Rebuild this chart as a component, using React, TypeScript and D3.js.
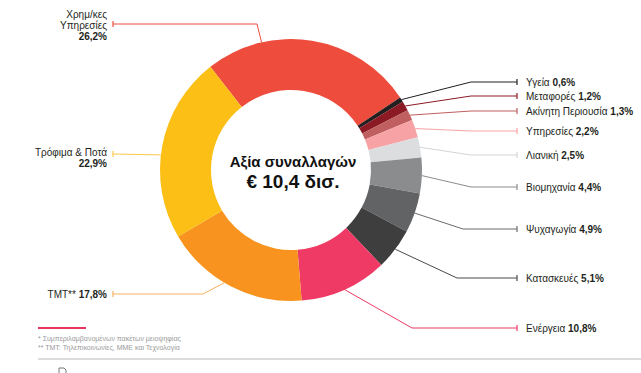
import React, { useEffect, useRef } from "react";
import * as d3 from "d3";

// sectors, clockwise from the red one
const sectors = [
  "Χρημ/κες Υπηρεσίες",
  "Υγεία",
  "Μεταφορές",
  "Ακίνητη Περιουσία",
  "Υπηρεσίες",
  "Λιανική",
  "Βιομηχανία",
  "Ψυχαγωγία",
  "Κατασκευές",
  "Ενέργεια",
  "TMT**",
  "Τρόφιμα & Ποτά",
];
const shares = [26.2, 0.6, 1.2, 1.3, 2.2, 2.5, 4.4, 4.9, 5.1, 10.8, 17.8, 22.9];
const shareLabels = ["26,2%", "0,6%", "1,2%", "1,3%", "2,2%", "2,5%", "4,4%", "4,9%", "5,1%", "10,8%", "17,8%", "22,9%"];
const colors = [
  "#ee4c3d", "#231f20", "#8c1a24", "#bf5f60", "#f7a3a6", "#dcddde",
  "#8b8c8e", "#626365", "#3e3e3f", "#ee3a64", "#f7931e", "#fcbf16",
];
const lineColors = [
  "#ee4c3d", "#231f20", "#8c1a24", "#bf5f60", "#f7a3a6", "#d4d5d6",
  "#8b8c8e", "#6a6b6d", "#4a4a4b", "#ee3a64", "#f9b060", "#fcc94a",
];

// label layout: side, label y, elbow x (null = straight line), where on the arc the line starts
const labelLayout = [
  { side: "left", y: 24, elbow: 257, anchor: 0.265 },
  { side: "right", y: 82, elbow: 471, anchor: 0.5 },
  { side: "right", y: 96, elbow: 471, anchor: 0.5 },
  { side: "right", y: 111, elbow: 471, anchor: 0.5 },
  { side: "right", y: 131, elbow: 471, anchor: 0.5 },
  { side: "right", y: 155, elbow: 471, anchor: 0.5 },
  { side: "right", y: 187, elbow: 471, anchor: 0.5 },
  { side: "right", y: 229, elbow: 463, anchor: 0.5 },
  { side: "right", y: 278, elbow: 457, anchor: 0.5 },
  { side: "right", y: 328, elbow: 412, anchor: 0.5 },
  { side: "left", y: 294, elbow: 203, anchor: 0.55 },
  { side: "left", y: 154, elbow: null, anchor: 0.45 },
];

const footnotes = [
  "* Συμπεριλαμβανομένων πακέτων μειοψηφίας",
  "** TMT: Τηλεπικοινωνίες, ΜΜΕ και Τεχνολογία",
];

const W = 641;
const H = 373;

const App = () => {
  const ref = useRef<SVGSVGElement | null>(null);

  useEffect(() => {
    drawChart();
  }, []);

  const drawChart = () => {
    const svg = d3.select(ref.current);
    svg.selectAll("*").remove();

    const cx = 291;
    const cy = 170;
    const outerRadius = 131;
    const innerRadius = 80;
    const start = (-38 * Math.PI) / 180;

    const pie = d3
      .pie<number>()
      .sort(null)
      .startAngle(start)
      .endAngle(start + 2 * Math.PI)(shares);

    const arc = d3
      .arc<d3.PieArcDatum<number>>()
      .innerRadius(innerRadius)
      .outerRadius(outerRadius);

    const g = svg.append("g").attr("transform", `translate(${cx},${cy})`);

    g.selectAll("path")
      .data(pie)
      .enter()
      .append("path")
      .attr("fill", (d, i) => colors[i])
      .attr("d", (d) => arc(d));

    // leader lines
    const leftTickX = 113;
    const rightTickX = 517;
    pie.forEach((d, i) => {
      const lay = labelLayout[i];
      const a = d.startAngle + (d.endAngle - d.startAngle) * lay.anchor;
      const sx = cx + outerRadius * Math.sin(a);
      const sy = cy - outerRadius * Math.cos(a);
      const endX = lay.side === "left" ? leftTickX : rightTickX;
      const pts: [number, number][] = [[sx, sy]];
      if (lay.elbow !== null) pts.push([lay.elbow, lay.y]);
      pts.push([endX, lay.y]);
      svg
        .append("path")
        .attr("d", d3.line()(pts))
        .attr("fill", "none")
        .attr("stroke", lineColors[i])
        .attr("stroke-width", 1);
      svg
        .append("line")
        .attr("x1", endX)
        .attr("x2", endX)
        .attr("y1", lay.y - 3)
        .attr("y2", lay.y + 3)
        .attr("stroke", lineColors[i])
        .attr("stroke-width", 1.2);

      if (lay.side === "right") {
        const t = svg
          .append("text")
          .attr("x", rightTickX + 9)
          .attr("y", lay.y + 3.5)
          .attr("font-size", 10)
          .attr("fill", "#231f20");
        t.append("tspan").text(sectors[i] + " ");
        t.append("tspan").attr("font-weight", "bold").text(shareLabels[i]);
      }
    });

    const leftText = (lines: { t: string; b?: boolean }[], y0: number) => {
      lines.forEach((l, k) => {
        svg
          .append("text")
          .attr("x", 107)
          .attr("y", y0 + k * 11)
          .attr("text-anchor", "end")
          .attr("font-size", 10)
          .attr("font-weight", l.b ? "bold" : "normal")
          .attr("fill", "#231f20")
          .text(l.t);
      });
    };
    leftText([{ t: "Χρημ/κες" }, { t: "Υπηρεσίες" }, { t: shareLabels[0], b: true }], 17.5);
    leftText([{ t: sectors[11] }, { t: shareLabels[11], b: true }], 155.5);
    const tmt = svg
      .append("text")
      .attr("x", 107)
      .attr("y", 297.5)
      .attr("text-anchor", "end")
      .attr("font-size", 10)
      .attr("fill", "#231f20");
    tmt.append("tspan").text("TMT** ");
    tmt.append("tspan").attr("font-weight", "bold").text(shareLabels[10]);

    // centre
    svg
      .append("text")
      .attr("x", cx + 2)
      .attr("y", 167)
      .attr("text-anchor", "middle")
      .attr("font-size", 15)
      .attr("font-weight", "bold")
      .attr("fill", "#111")
      .text("Αξία συναλλαγών");
    svg
      .append("text")
      .attr("x", cx + 2)
      .attr("y", 188)
      .attr("text-anchor", "middle")
      .attr("font-size", 19)
      .attr("font-weight", "bold")
      .attr("fill", "#111")
      .text("€ 10,4 δισ.");

    // footnotes
    svg
      .append("line")
      .attr("x1", 38)
      .attr("x2", 86)
      .attr("y1", 328)
      .attr("y2", 328)
      .attr("stroke", "#e8365d")
      .attr("stroke-width", 2);
    footnotes.forEach((f, k) => {
      svg
        .append("text")
        .attr("x", 38)
        .attr("y", 341 + k * 9)
        .attr("font-size", 7)
        .attr("fill", "#9a9a9a")
        .text(f);
    });
    svg
      .append("line")
      .attr("x1", 38)
      .attr("x2", W)
      .attr("y1", 359)
      .attr("y2", 359)
      .attr("stroke", "#d0d0d0")
      .attr("stroke-width", 1.5);
    svg
      .append("path")
      .attr("d", "M59,373 V368 H64 L66,370 V373")
      .attr("fill", "none")
      .attr("stroke", "#555")
      .attr("stroke-width", 0.8);
  };

  return (
    <div style={{ position: "absolute", left: 0, top: 0 }}>
      <svg
        ref={ref}
        width={W}
        height={H}
        style={{ display: "block", fontFamily: "'Liberation Sans', Arial, sans-serif", background: "#fff" }}
      />
    </div>
  );
};

export default App;
